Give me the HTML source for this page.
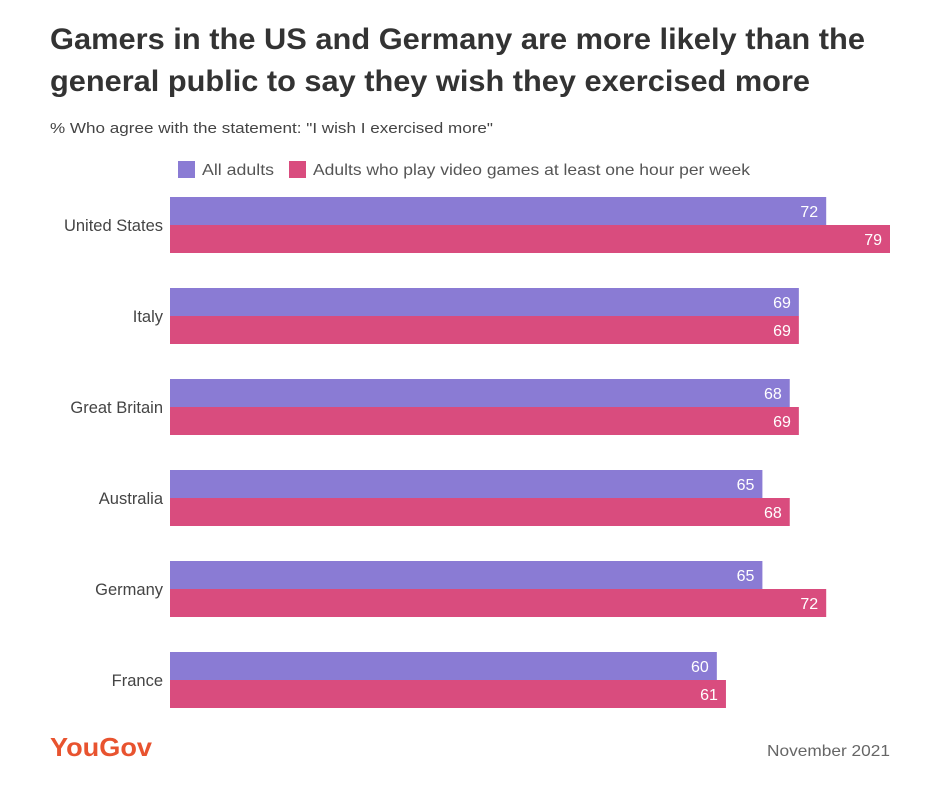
<!DOCTYPE html>
<html><head><meta charset="utf-8"><style>
body{margin:0;background:#fff;font-family:"Liberation Sans",sans-serif;}
#wrap{position:relative;width:927px;height:801px;overflow:hidden;}
</style></head><body>
<div id="wrap">
<svg id="svg" width="927" height="801" xmlns="http://www.w3.org/2000/svg">
<text x="50" y="49" font-size="30" font-weight="bold" fill="#333" textLength="815" lengthAdjust="spacingAndGlyphs">Gamers in the US and Germany are more likely than the</text>
<text x="50" y="91" font-size="30" font-weight="bold" fill="#333" textLength="760" lengthAdjust="spacingAndGlyphs">general public to say they wish they exercised more</text>
<text x="50" y="133" font-size="15" fill="#444" textLength="443" lengthAdjust="spacingAndGlyphs">% Who agree with the statement: "I wish I exercised more"</text>
<rect x="178" y="161" width="17" height="17" fill="#8a7bd4"/>
<text x="202" y="175" font-size="16" fill="#555" textLength="72" lengthAdjust="spacingAndGlyphs">All adults</text>
<rect x="289" y="161" width="17" height="17" fill="#d94c7e"/>
<text x="313" y="175" font-size="16" fill="#555" textLength="437" lengthAdjust="spacingAndGlyphs">Adults who play video games at least one hour per week</text>
<g id="bars"></g>
<text x="50" y="756" font-size="26" font-weight="bold" fill="#e8532f" textLength="102" lengthAdjust="spacingAndGlyphs">YouGov</text>
<text x="890" y="756" font-size="16" fill="#666" text-anchor="end" textLength="123" lengthAdjust="spacingAndGlyphs">November 2021</text>
</svg>
</div>
<script>
const categories=["United States","Italy","Great Britain","Australia","Germany","France"];
const allAdults=[72,69,68,65,65,60];
const gamers=[79,69,69,68,72,61];
const x0=170, scale=720/79, top0=197, step=91, bh=28;
function xs(v){return v*scale;}
const g=document.getElementById('bars');
const NS="http://www.w3.org/2000/svg";
categories.forEach((c,i)=>{
  const y=top0+i*step;
  const lab=document.createElementNS(NS,'text');
  lab.setAttribute('x',163);lab.setAttribute('y',y+bh+6);
  lab.setAttribute('text-anchor','end');lab.setAttribute('font-size','16.5');lab.setAttribute('fill','#444');
  lab.textContent=c;
  
  
  g.appendChild(lab);
  [[allAdults,'#8a7bd4'],[gamers,'#d94c7e']].forEach((s,k)=>{
    const v=s[0][i], yy=y+k*bh;
    const r=document.createElementNS(NS,'rect');
    r.setAttribute('x',x0);r.setAttribute('y',yy);r.setAttribute('width',xs(v));r.setAttribute('height',bh);r.setAttribute('fill',s[1]);
    
    
    g.appendChild(r);
    const t=document.createElementNS(NS,'text');
    t.setAttribute('x',x0+xs(v)-8);t.setAttribute('y',yy+20);t.setAttribute('text-anchor','end');
    t.setAttribute('font-size','16');t.setAttribute('fill','#fff');
    t.textContent=v;
    
    
    g.appendChild(t);
  });
});
</script>
</body></html>
